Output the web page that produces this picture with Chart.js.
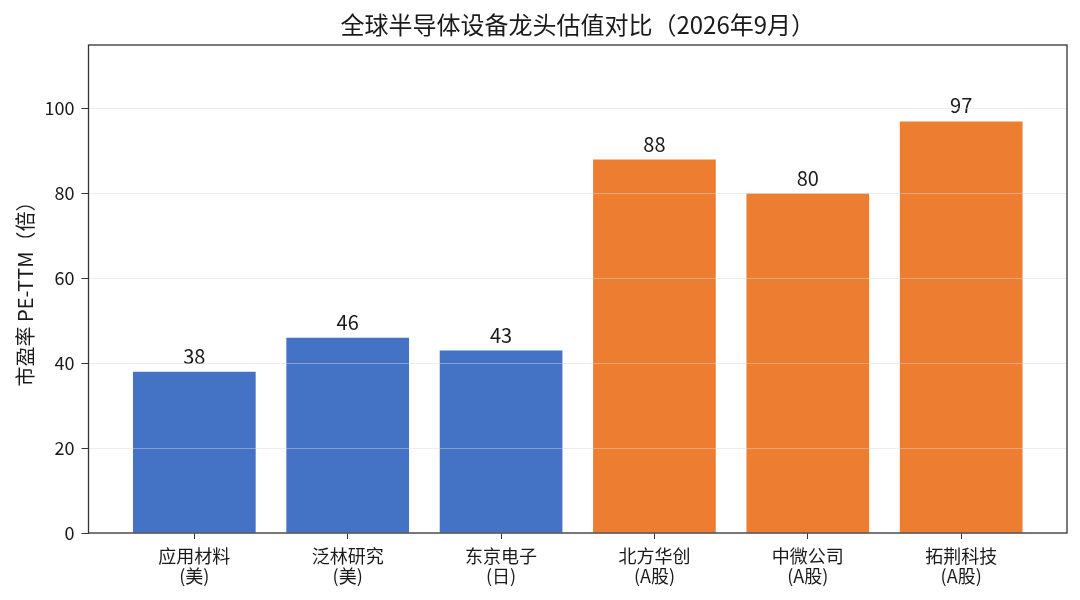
<!DOCTYPE html>
<html>
<head>
<meta charset="utf-8">
<script src="https://cdn.jsdelivr.net/npm/chart.js@4"></script>
<style>
  body { margin: 0; background: #fff; }
  #wrap { width: 1080px; height: 600px; }
</style>
</head>
<body>
<div id="wrap"><canvas id="peChart"></canvas></div>
<script>
// 全球半导体设备龙头估值对比 — bar chart

const FONT = '"Noto Sans CJK SC", "Noto Sans", sans-serif';

const companies = ['应用材料', '泛林研究', '东京电子', '北方华创', '中微公司', '拓荆科技'];
const markets = ['(美)', '(美)', '(日)', '(A股)', '(A股)', '(A股)'];
const peValues = [38, 46, 43, 88, 80, 97];
const barColors = ['#4472C4', '#4472C4', '#4472C4', '#ED7D31', '#ED7D31', '#ED7D31'];
const yTicks = [0, 20, 40, 60, 80, 100];

// title + frame + value labels
const decorations = {
  id: 'decorations',
  afterDatasetsDraw(chart) {
    const { ctx } = chart;
    ctx.save();
    ctx.fillStyle = '#1a1a1a';
    ctx.font = '20px ' + FONT;
    ctx.textAlign = 'center';
    ctx.textBaseline = 'alphabetic';
    chart.getDatasetMeta(0).data.forEach((bar, i) => {
      ctx.fillText(String(peValues[i]), bar.x, bar.y - 8);
    });
    ctx.restore();
  },
  afterDraw(chart) {
    const { ctx, chartArea: a } = chart;
    ctx.save();
    ctx.strokeStyle = '#333';
    ctx.lineWidth = 1.3;
    ctx.strokeRect(a.left, a.top, a.right - a.left, a.bottom - a.top);
    ctx.fillStyle = '#1a1a1a';
    ctx.font = '24px ' + FONT;
    ctx.textAlign = 'center';
    ctx.textBaseline = 'middle';
    ctx.fillText('全球半导体设备龙头估值对比（2026年9月）', (a.left + a.right) / 2, 25);
    ctx.restore();
  }
};

const ctx = document.getElementById('peChart').getContext('2d');
new Chart(ctx, {
  type: 'bar',
  data: {
    datasets: [{
      data: peValues.map((v, i) => ({ x: i, y: v })),
      backgroundColor: barColors,
      borderWidth: 0,
      barPercentage: 0.8,
      categoryPercentage: 1.0
    }]
  },
  options: {
    responsive: true,
    maintainAspectRatio: false,
    animation: false,
    layout: { padding: { top: 45, right: 13, left: 0, bottom: 0 } },
    plugins: {
      legend: { display: false },
      tooltip: { enabled: false }
    },
    scales: {
      x: {
        type: 'linear',
        offset: false,
        min: -0.69,
        max: companies.length - 1 + 0.69,
        afterBuildTicks: s => { s.ticks = companies.map((_, i) => ({ value: i })); },
        afterFit: s => { s.height = 67; },
        border: { display: false },
        grid: { offset: false, drawOnChartArea: false, drawTicks: true, tickLength: 6, tickColor: '#333', lineWidth: 1 },
        ticks: {
          color: '#1a1a1a',
          padding: 7,
          maxRotation: 0,
          autoSkip: false,
          font: { family: FONT, size: 18, lineHeight: 1.12 },
          callback: v => [companies[v], markets[v]]
        }
      },
      y: {
        min: 0,
        max: 115,
        afterBuildTicks: s => { s.ticks = yTicks.map(v => ({ value: v })); },
        afterFit: s => { s.width = 88.5; },
        border: { display: false },
        grid: { color: 'rgba(215,215,215,0.45)', lineWidth: 1, z: 1, tickLength: 7, tickColor: '#333' },
        ticks: {
          color: '#1a1a1a',
          padding: 7,
          font: { family: FONT, size: 18 }
        },
        title: {
          display: true,
          text: '市盈率 PE-TTM（倍）',
          color: '#1a1a1a',
          padding: { top: 13, bottom: 0 },
          font: { family: FONT, size: 20 }
        }
      }
    }
  },
  plugins: [decorations]
});
</script>
</body>
</html>
